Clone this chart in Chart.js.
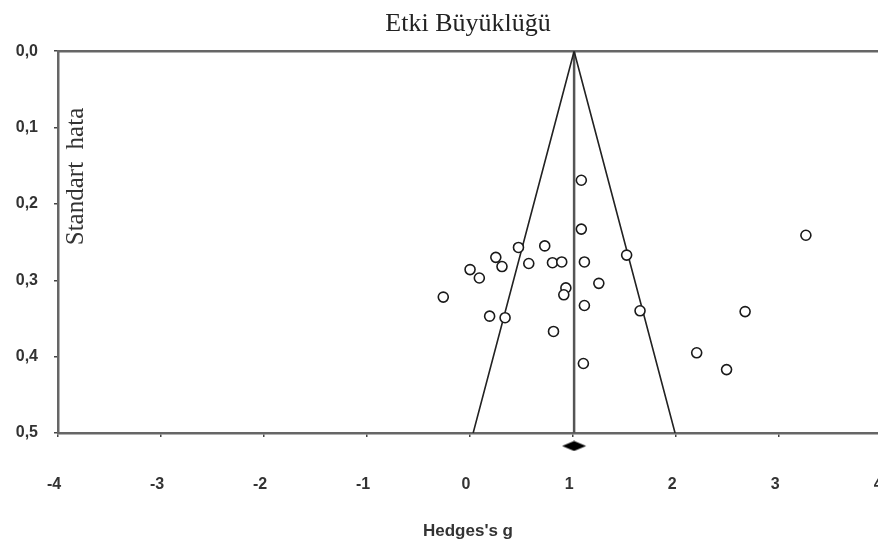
<!DOCTYPE html>
<html>
<head>
<meta charset="utf-8">
<script src="https://cdn.jsdelivr.net/npm/chart.js@4.4.1/dist/chart.umd.min.js"></script>
<style>
  html, body { margin: 0; padding: 0; background: #ffffff; }
  #wrap { width: 878px; height: 543px; position: relative; }
</style>
</head>
<body>
<div id="wrap"><canvas id="c" width="878" height="543"></canvas></div>
<script>
// ---- Data ----
const chartTitle = 'Etki Büyüklüğü';
const xAxisTitle = "Hedges's g";
const yAxisTitle = 'Standart  hata';

// Studies: Hedges's g and standard error
const hedgesG = [1.08, 1.08, 0.725, 0.47, 0.25, 0.31, 0.57, 0.80, 0.89, 1.11,
                 0.00, 0.09, -0.26, 0.93, 0.91, 1.25, 1.11, 0.19, 0.34, 0.81,
                 1.10, 1.52, 1.65, 2.20, 2.49, 2.67, 3.26];
const stdError = [0.169, 0.233, 0.255, 0.257, 0.270, 0.282, 0.278, 0.277, 0.276, 0.276,
                  0.286, 0.297, 0.322, 0.310, 0.319, 0.304, 0.333, 0.347, 0.349, 0.367,
                  0.409, 0.267, 0.340, 0.395, 0.417, 0.341, 0.241];

// Pooled effect and funnel limits
const pooledG = 1.01;
const funnelX = [0.03, 1.01, 1.99];
const funnelY = [0.5, 0.0, 0.5];
const pooledLineY = [0.0, 0.5];
const diamondSE = 0.517;

// Axis range (the plot is cut at the right edge of the picture) and ticks
const xMin = -4;
const xMaxVisible = 3.96;
const xTicks = [-4, -3, -2, -1, 0, 1, 2, 3, 4];
const yTicks = [0.0, 0.1, 0.2, 0.3, 0.4, 0.5];
const yTickLabels = ['0,0', '0,1', '0,2', '0,3', '0,4', '0,5'];

// ---- Build datasets ----
const studyPoints = hedgesG.map((g, i) => ({ x: g, y: stdError[i] }));
const funnelPoints = funnelX.map((x, i) => ({ x: x, y: funnelY[i] }));
const pooledLine = pooledLineY.map(y => ({ x: pooledG, y: y }));

// diamond marker image for the pooled estimate
const diamond = document.createElement('canvas');
diamond.width = 26; diamond.height = 11;
(function () {
  const d = diamond.getContext('2d');
  d.fillStyle = '#000';
  d.beginPath();
  d.moveTo(1, 5.5); d.lineTo(13, 0.5); d.lineTo(25, 5.5); d.lineTo(13, 10.5);
  d.closePath(); d.fill();
})();

const decor = {
  id: 'decor',
  beforeDatasetsDraw(chart) {
    const { ctx, chartArea } = chart;
    ctx.save();
    ctx.strokeStyle = '#666';
    ctx.lineWidth = 2.5;
    ctx.beginPath();
    ctx.moveTo(chartArea.left - 1, chartArea.top);
    ctx.lineTo(chartArea.right + 2, chartArea.top);
    ctx.stroke();
    ctx.restore();
  },
  afterDraw(chart) {
    const { ctx } = chart;
    ctx.save();
    ctx.translate(83, 176.5);
    ctx.rotate(-Math.PI / 2);
    ctx.font = '25px "Liberation Serif"';
    ctx.fillStyle = '#333';
    ctx.textAlign = 'center';
    ctx.textBaseline = 'alphabetic';
    ctx.fillText(yAxisTitle, 0, 0);
    ctx.restore();
  }
};

new Chart(document.getElementById('c'), {
  type: 'scatter',
  data: {
    datasets: [
      {
        label: 'studies',
        data: studyPoints,
        pointRadius: 5,
        pointHoverRadius: 5,
        pointBackgroundColor: '#ffffff',
        pointBorderColor: '#1a1a1a',
        pointBorderWidth: 1.6,
        order: 0
      },
      {
        label: 'funnel',
        type: 'line',
        data: funnelPoints,
        borderColor: '#222',
        borderWidth: 1.6,
        pointRadius: 0,
        fill: false,
        tension: 0,
        order: 2
      },
      {
        label: 'pooled',
        type: 'line',
        data: pooledLine,
        borderColor: '#555',
        borderWidth: 2.5,
        pointRadius: 0,
        fill: false,
        order: 2
      },
      {
        label: 'pooled estimate',
        data: [{ x: pooledG, y: diamondSE }],
        pointStyle: diamond,
        pointRadius: 20,
        pointHoverRadius: 20,
        pointBorderWidth: 0,
        clip: false,
        order: 1
      }
    ]
  },
  options: {
    responsive: false,
    animation: false,
    events: [],
    layout: { autoPadding: false, padding: { left: 0, right: 0, top: 0, bottom: 0 } },
    plugins: {
      legend: { display: false },
      tooltip: { enabled: false },
      title: {
        display: true,
        text: chartTitle,
        fullSize: false,
        color: '#222',
        font: { family: '"Liberation Serif"', size: 26, weight: 'normal', lineHeight: 1.2 },
        padding: { top: 9, bottom: 11 }
      }
    },
    scales: {
      x: {
        type: 'linear',
        min: xMin,
        max: xMaxVisible,
        afterFit(scale) { scale.height = 110; scale.paddingRight = 0; scale.paddingLeft = 0; },
        afterBuildTicks(scale) { scale.ticks = xTicks.map(v => ({ value: v })); },
        border: { display: true, color: '#666', width: 2.5 },
        grid: { drawOnChartArea: false, drawTicks: true, tickLength: 4, color: '#444', lineWidth: 1.5 },
        ticks: {
          padding: 38,
          labelOffset: -4,
          color: '#333',
          font: { family: '"Liberation Sans"', size: 16, weight: 'bold' },
          callback: v => String(v)
        },
        title: {
          display: true,
          text: xAxisTitle,
          color: '#333',
          font: { family: '"Liberation Sans"', size: 17, weight: 'bold' },
          padding: { top: 0, bottom: 1 }
        }
      },
      y: {
        type: 'linear',
        reverse: true,
        min: 0,
        max: 0.5,
        afterFit(scale) { scale.width = 58; },
        afterBuildTicks(scale) { scale.ticks = yTicks.map(v => ({ value: v })); },
        border: { display: true, color: '#666', width: 2.5 },
        grid: { drawOnChartArea: false, drawTicks: true, tickLength: 4, color: '#444', lineWidth: 1.5 },
        ticks: {
          padding: 16,
          color: '#333',
          font: { family: '"Liberation Sans"', size: 16, weight: 'bold' },
          callback: (v, i) => yTickLabels[yTicks.indexOf(Math.round(v * 10) / 10)]
        }
      }
    }
  },
  plugins: [decor]
});
</script>
</body>
</html>
